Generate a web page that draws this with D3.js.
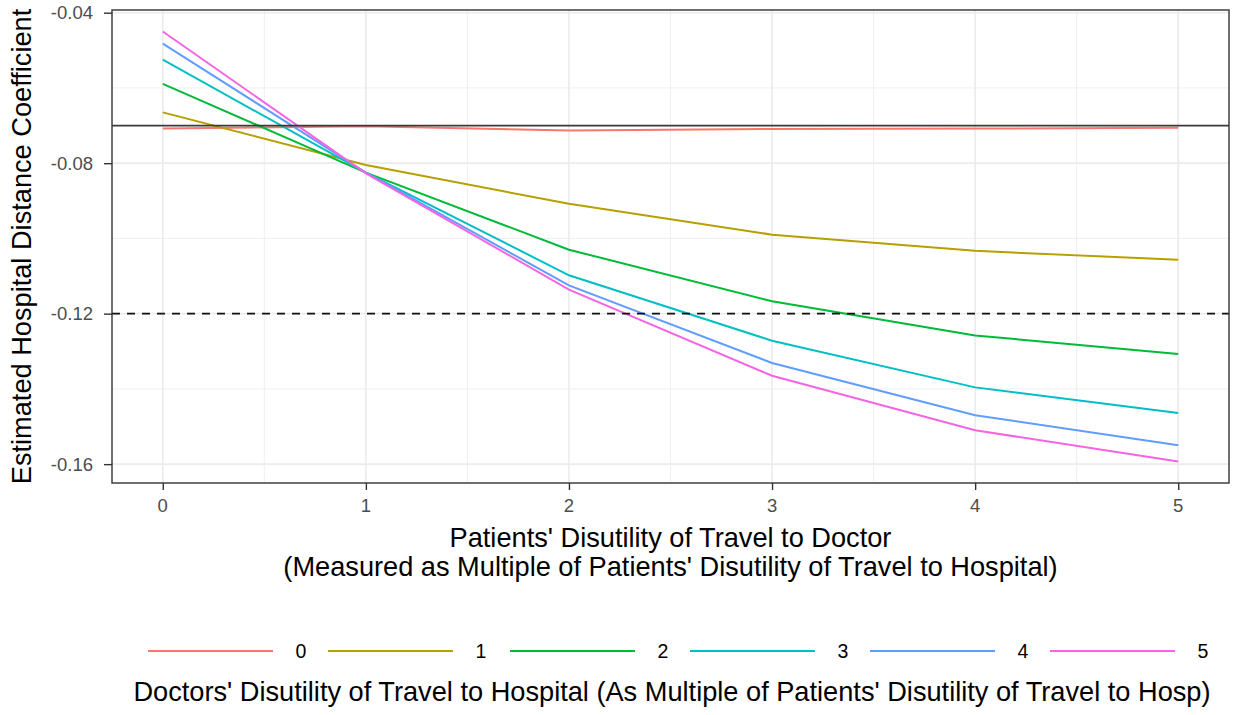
<!DOCTYPE html>
<html><head><meta charset="utf-8">
<script src="https://cdn.jsdelivr.net/npm/d3@7"></script>
<style>body{margin:0;background:#fff}</style>
</head><body>
<svg id="c" width="1233" height="715"></svg>
<script>
const xVals = [0, 1, 2, 3, 4, 5];
const groups = ["0", "1", "2", "3", "4", "5"];
const colors = ["#F8766D", "#B79F00", "#00BA38", "#00BFC4", "#619CFF", "#F564E3"];
const s0 = [-0.0708, -0.0702, -0.0713, -0.0709, -0.0708, -0.0706];
const s1 = [-0.0665, -0.0805, -0.0908, -0.0990, -0.1033, -0.1057];
const s2 = [-0.0589, -0.0825, -0.1030, -0.1167, -0.1258, -0.1307];
const s3 = [-0.0525, -0.0825, -0.1098, -0.1272, -0.1396, -0.1464];
const s4 = [-0.0482, -0.0825, -0.1125, -0.1331, -0.1470, -0.1550];
const s5 = [-0.0450, -0.0827, -0.1136, -0.1365, -0.1510, -0.1593];
const series = [s0, s1, s2, s3, s4, s5];
const yTicks = [-0.16, -0.12, -0.08, -0.04];
const yMinor = [-0.14, -0.10, -0.06];
const xMinor = [0.5, 1.5, 2.5, 3.5, 4.5];
const hSolid = -0.07, hDashed = -0.12;

const FONT = "'Liberation Sans', Arial, sans-serif";
const svg = d3.select("#c");
const L = 112, R = 1229, T = 10, B = 483;
const all = series.flat();
const ymin = d3.min(all), ymax = d3.max(all);
const ypad = (ymax - ymin) * 0.05;
const x = d3.scaleLinear().domain([-0.25, 5.25]).range([L, R]);
const y = d3.scaleLinear().domain([ymin - ypad, ymax + ypad]).range([B, T]);

const g = svg.append("g");
// minor grid
g.selectAll(".ym").data(yMinor).enter().append("line")
  .attr("x1", L).attr("x2", R).attr("y1", d => y(d)).attr("y2", d => y(d))
  .attr("stroke", "#ebebeb").attr("stroke-width", 0.8);
g.selectAll(".xm").data(xMinor).enter().append("line")
  .attr("y1", T).attr("y2", B).attr("x1", d => x(d)).attr("x2", d => x(d))
  .attr("stroke", "#ebebeb").attr("stroke-width", 0.8);
// major grid
g.selectAll(".yM").data(yTicks).enter().append("line")
  .attr("x1", L).attr("x2", R).attr("y1", d => y(d)).attr("y2", d => y(d))
  .attr("stroke", "#ebebeb").attr("stroke-width", 1.6);
g.selectAll(".xM").data(xVals).enter().append("line")
  .attr("y1", T).attr("y2", B).attr("x1", d => x(d)).attr("x2", d => x(d))
  .attr("stroke", "#ebebeb").attr("stroke-width", 1.6);

// lines
const line = d3.line().x((d, i) => x(xVals[i])).y(d => y(d));
series.forEach((s, i) => {
  g.append("path").datum(s).attr("d", line).attr("fill", "none")
    .attr("stroke", colors[i]).attr("stroke-width", 2);
});
// reference lines
g.append("line").attr("x1", L).attr("x2", R).attr("y1", y(hSolid)).attr("y2", y(hSolid))
  .attr("stroke", "#3a3a3a").attr("stroke-width", 1.8);
g.append("line").attr("x1", L).attr("x2", R).attr("y1", y(hDashed)).attr("y2", y(hDashed))
  .attr("stroke", "#111").attr("stroke-width", 1.8).attr("stroke-dasharray", "8,7");

// border
g.append("rect").attr("x", L).attr("y", T).attr("width", R - L).attr("height", B - T)
  .attr("fill", "none").attr("stroke", "#333").attr("stroke-width", 1.4);

// axes (tick marks from d3 axes, labels as plain text placed with the same scales)
const xa = svg.append("g").attr("transform", `translate(0,${B})`)
  .call(d3.axisBottom(x).tickValues(xVals).tickFormat("").tickSize(7));
const ya = svg.append("g").attr("transform", `translate(${L},0)`)
  .call(d3.axisLeft(y).tickValues(yTicks).tickFormat("").tickSize(8));
[xa, ya].forEach(a => {
  a.select(".domain").remove();
  a.selectAll(".tick line").attr("stroke", "#333").attr("stroke-width", 1.4);
});
svg.append("g").selectAll("text").data(xVals).enter().append("text")
  .attr("x", d => x(d)).attr("y", B + 29).attr("text-anchor", "middle")
  .style("font-family", FONT).style("font-size", "18.5px").attr("fill", "#4d4d4d")
  .text(d3.format("d"));
svg.append("g").selectAll("text").data(yTicks).enter().append("text")
  .attr("x", L - 19).attr("y", d => y(d) + 6.5).attr("text-anchor", "end")
  .style("font-family", FONT).style("font-size", "18.5px").attr("fill", "#4d4d4d")
  .text(d => d.toFixed(2));

// titles
const cx = (L + R) / 2;
function title(xp, yp, txt, size) {
  return svg.append("text").attr("x", xp).attr("y", yp).attr("text-anchor", "middle")
    .style("font-family", FONT).style("font-size", size + "px").attr("fill", "#000").text(txt);
}
title(cx, 547, "Patients' Disutility of Travel to Doctor", 27.2);
title(cx, 576, "(Measured as Multiple of Patients' Disutility of Travel to Hospital)", 27.2);
svg.append("text").attr("transform", `translate(31,${(T + B) / 2}) rotate(-90)`)
  .attr("text-anchor", "middle").style("font-family", FONT).style("font-size", "27.2px").attr("fill", "#000")
  .text("Estimated Hospital Distance Coefficient");

// legend
const legStarts = [148, 328, 510, 690, 870, 1050];
const lg = svg.append("g");
groups.forEach((gname, i) => {
  const x0 = legStarts[i];
  lg.append("line").attr("x1", x0).attr("x2", x0 + 125).attr("y1", 651).attr("y2", 651)
    .attr("stroke", colors[i]).attr("stroke-width", 2);
  lg.append("text").attr("x", x0 + 153).attr("y", 658).attr("text-anchor", "middle")
    .style("font-family", FONT).style("font-size", "19.5px").attr("fill", "#000").text(gname);
});
title(672, 701, "Doctors' Disutility of Travel to Hospital (As Multiple of Patients' Disutility of Travel to Hosp)", 27.2);
</script>
</body></html>
